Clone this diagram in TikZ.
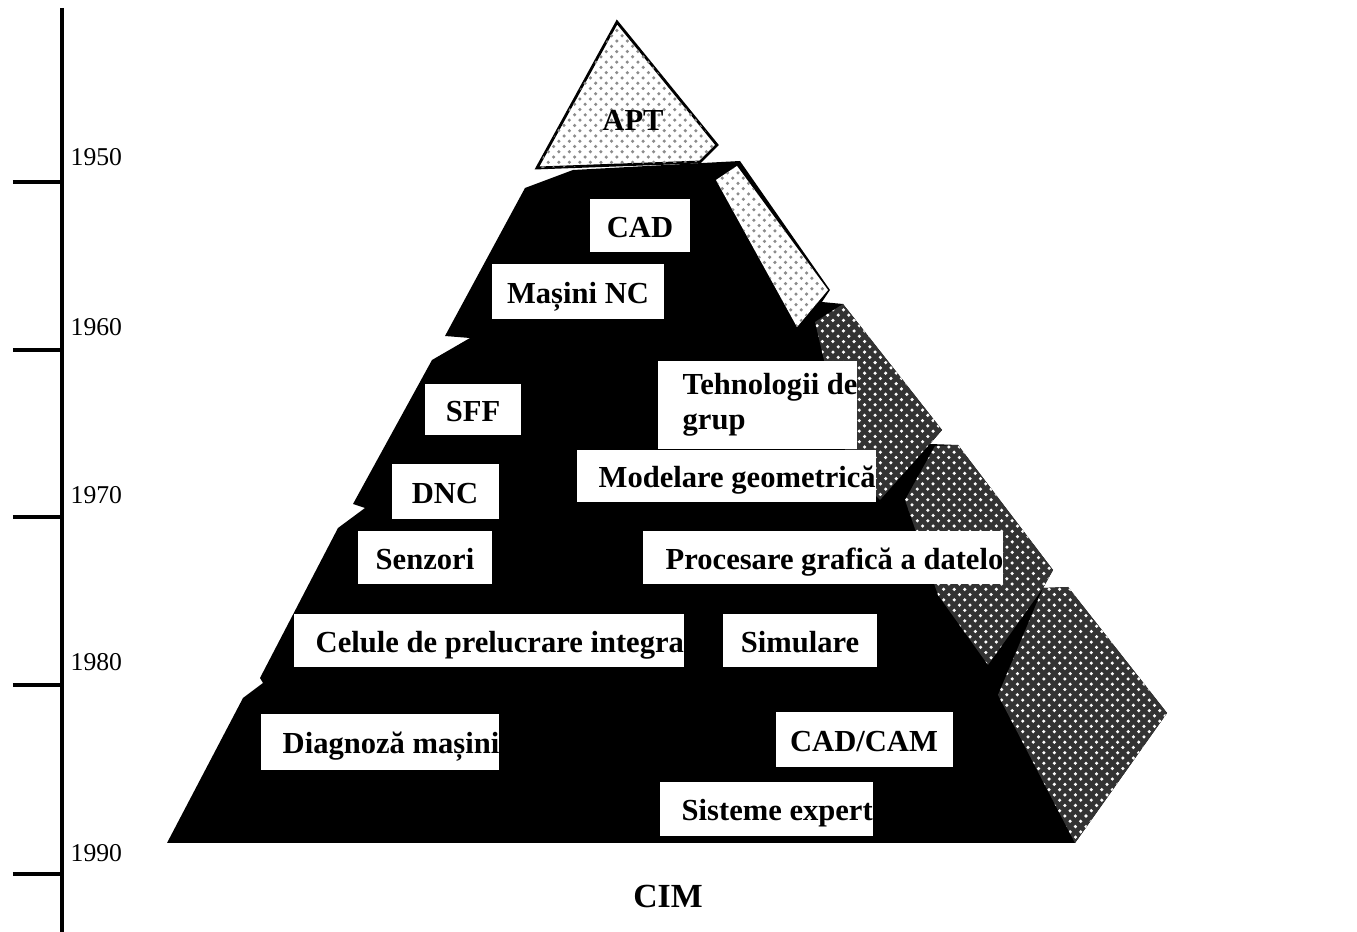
\documentclass[tikz,border=0pt]{standalone}
\usepackage{fontspec}
\setmainfont{Liberation Serif}
\usetikzlibrary{patterns}
\definecolor{speck}{HTML}{8C8C8C}
\tikzset{
  plate/.style={rectangle, fill=white, inner xsep=0pt, inner ysep=0pt,
    font=\bfseries\fontsize{8.7}{10}\selectfont},
  capline/.style={text height=0.66em, text depth=0pt},
  tag/.style={plate, capline},
  lefttag/.style={plate, anchor=west, execute at begin node={\hspace*{#1}}},
  toptext/.style={font=\bfseries\fontsize{8.7}{10}\selectfont},
  year/.style={anchor=west, inner sep=0pt, font=\fontsize{7.3}{9}\selectfont},
  yeartick/.style={line width=0.9pt},
  front/.style={fill=black},
  darkface/.style={fill=black!80, postaction={pattern=crosshatch dots, pattern color=white}},
  lightface/.style={fill=white, postaction={pattern=crosshatch dots, pattern color=speck}},
}
\begin{document}
\begin{tikzpicture}[x=0.1mm, y=-0.1mm]
  \useasboundingbox (0,0) rectangle (1357,932);

  \draw[line width=1.2pt] (62,8) -- (62,932);
  \foreach \yr/\ly/\ty in {1950/157/182, 1960/327/350, 1970/495/517, 1980/662/685, 1990/853/874} {
    \draw[yeartick] (13,\ty) -- (62,\ty);
    \node[year] (y\yr) at (70,\ly) {\yr};
  }

  \fill[front] (167,843) -- (243,698) -- (263,683) -- (260,678) -- (338,528) -- (365,508)
    -- (353,504) -- (432,360) -- (470,338) -- (445,336) -- (525,188) -- (573,170)
    -- (740,161) -- (830,290) -- (822,302) -- (843,304) -- (942,430) -- (930,444)
    -- (958,445) -- (1053,570) -- (1043,588) -- (1068,587) -- (1167,713) -- (1075,843) -- cycle;

  \fill[lightface, draw=black, line width=0.8pt] (537,168) -- (617,22) -- (717,145) -- (700,162) -- cycle;
  \fill[lightface] (716,180) -- (737,166) -- (828,290) -- (797,327) -- cycle;
  \fill[darkface] (815,322) -- (843,304) -- (942,430) -- (928,446) -- (880,500) -- (850,470) -- cycle;
  \fill[darkface] (905,500) -- (935,446) -- (958,445) -- (1053,570) -- (1043,588) -- (988,665) -- (938,595) -- cycle;
  \fill[darkface] (1043,588) -- (1068,587) -- (1167,713) -- (1075,843) -- (998,695) -- cycle;

  \node[toptext] (apt) at (633,120) {APT};
  \node[tag, minimum width=10mm, minimum height=5.3mm] (cad) at (640,226) {CAD};
  \node[tag, minimum width=17.2mm, minimum height=5.5mm] (nc) at (578,292) {Mașini NC};
  \node[tag, minimum width=9.6mm, minimum height=5.1mm] (sff) at (473,410) {SFF};
  \node[tag, minimum width=10.7mm, minimum height=5.5mm] (dnc) at (445,492) {DNC};
  \node[tag, minimum width=13.5mm, minimum height=5.3mm] (senzori) at (425,558) {Senzori};
  \node[tag, minimum width=15.4mm, minimum height=5.3mm] (simulare) at (800,641) {Simulare};
  \node[tag, minimum width=17.7mm, minimum height=5.5mm] (cadcam) at (864,740) {CAD/CAM};
  \node[lefttag=2.5mm, align=left, inner ysep=1.2mm] (grup) at (657,405) {Tehnologii de\\grup};
  \node[lefttag=2.2mm, capline, minimum height=5.2mm] (modelare) at (576,476) {Modelare geometrică};
  \node[lefttag=2.3mm, capline, minimum height=5.3mm] (procesare) at (642,558) {Procesare grafică a datelo};
  \node[lefttag=2.2mm, capline, minimum height=5.3mm] (celule) at (293,641) {Celule de prelucrare integra};
  \node[lefttag=2.2mm, capline, minimum height=5.6mm] (diagnoza) at (260,742) {Diagnoză mașini};
  \node[lefttag=2.2mm, capline, minimum height=5.4mm] (expert) at (659,809) {Sisteme expert};

  \node[toptext, font=\bfseries\fontsize{9.6}{11}\selectfont] (cim) at (668,897) {CIM};
\end{tikzpicture}
\end{document}
